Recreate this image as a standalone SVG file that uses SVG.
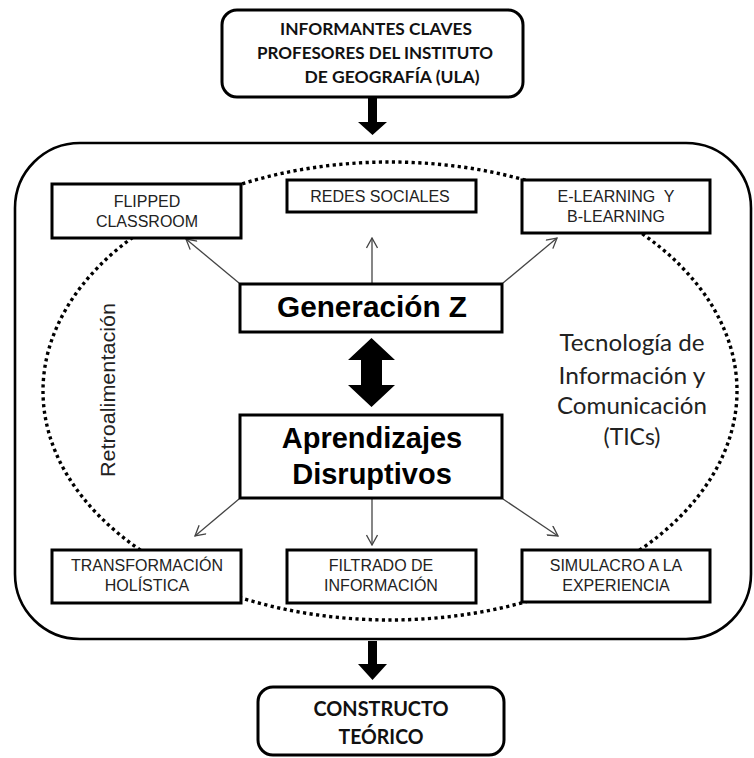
<svg xmlns="http://www.w3.org/2000/svg" width="754" height="758" viewBox="0 0 754 758">
<style>
.frame{fill:#fff;stroke:#000;stroke-width:3}
.box{fill:#fff;stroke:#000;stroke-width:3}
.hd{font-family:Lato,"Liberation Sans",sans-serif;font-weight:700;fill:#111;text-anchor:middle}
.sm{font-family:"Liberation Sans",Arial,sans-serif;font-size:16px;fill:#222;text-anchor:middle;white-space:pre}
.big{font-family:"Liberation Sans",Arial,sans-serif;font-weight:700;font-size:29px;fill:#000;text-anchor:middle}
.tic{font-family:Lato,"Open Sans",sans-serif;font-size:24px;fill:#222;text-anchor:middle}
.thin{stroke:#444;stroke-width:1.3;fill:none;marker-end:url(#open)}
</style>
<defs>
<marker id="open" viewBox="0 0 12 12" refX="11" refY="6" markerWidth="12" markerHeight="12" markerUnits="userSpaceOnUse" orient="auto">
<path d="M1,0.5 L11,6 L1,11.5" fill="none" stroke="#444" stroke-width="1.3"/>
</marker>
</defs>
<rect width="754" height="758" fill="#fff"/>
<g id="contexto">
<rect x="15" y="143" width="736" height="496" rx="65" ry="65" fill="#fff" stroke="#000" stroke-width="2.6"/>
<ellipse cx="390" cy="391" rx="347" ry="229" fill="none" stroke="#000" stroke-width="3.4" stroke-dasharray="3.2 3.4"/>
<text class="sm" transform="translate(115,390) rotate(-90)" style="font-size:21px" textLength="174" lengthAdjust="spacingAndGlyphs">Retroalimentación</text>
<text class="tic" x="632" y="351" textLength="145" lengthAdjust="spacingAndGlyphs">Tecnología de</text>
<text class="tic" x="632" y="384" textLength="147" lengthAdjust="spacingAndGlyphs">Información y</text>
<text class="tic" x="632" y="414" textLength="150" lengthAdjust="spacingAndGlyphs">Comunicación</text>
<text class="tic" x="632" y="445" textLength="57" lengthAdjust="spacingAndGlyphs">(TICs)</text>
</g>
<g id="connectors">
<polygon points="368,97 377,97 377,122 387,122 372.5,135 358,122 368,122" fill="#000"/>
<polygon points="368,641 377,641 377,664 387,664 372.5,680 358,664 368,664" fill="#000"/>
<polygon points="371.5,338 395,360 382,360 382,385 395,385 371.5,407 348,385 361,385 361,360 348,360" fill="#000"/>
<line class="thin" x1="239" y1="283" x2="186" y2="239"/>
<line class="thin" x1="372" y1="283" x2="372" y2="238"/>
<line class="thin" x1="503" y1="283" x2="557" y2="238"/>
<line class="thin" x1="239" y1="499" x2="195" y2="536"/>
<line class="thin" x1="372" y1="499" x2="372" y2="545"/>
<line class="thin" x1="503" y1="499" x2="558" y2="536"/>
</g>
<g id="informantes">
<rect class="frame" x="222" y="10" width="301" height="87" rx="15"/>
<text class="hd" x="376" y="35" style="font-size:17px" textLength="192" lengthAdjust="spacingAndGlyphs">INFORMANTES CLAVES</text>
<text class="hd" x="375" y="59" style="font-size:17px" textLength="236" lengthAdjust="spacingAndGlyphs">PROFESORES DEL INSTITUTO</text>
<text class="hd" x="392" y="83" style="font-size:17px" textLength="175" lengthAdjust="spacingAndGlyphs">DE GEOGRAFÍA (ULA)</text>
</g>
<g id="flipped">
<rect class="box" x="52" y="184" width="189" height="54"/>
<text class="sm" x="147" y="207">FLIPPED</text>
<text class="sm" x="147" y="227">CLASSROOM</text>
</g>
<g id="redes">
<rect class="box" x="287" y="180" width="189" height="32"/>
<text class="sm" x="380" y="202">REDES SOCIALES</text>
</g>
<g id="elearning">
<rect class="box" x="522" y="180" width="188" height="53"/>
<text class="sm" x="616" y="202">E-LEARNING  Y</text>
<text class="sm" x="616" y="222">B-LEARNING</text>
</g>
<g id="generacion">
<rect class="box" x="240" y="284" width="262" height="48"/>
<text class="big" x="372" y="317" textLength="190" lengthAdjust="spacingAndGlyphs">Generación Z</text>
</g>
<g id="aprendizajes">
<rect class="box" x="240" y="415" width="262" height="83"/>
<text class="big" x="372" y="448">Aprendizajes</text>
<text class="big" x="372" y="484">Disruptivos</text>
</g>
<g id="transformacion">
<rect class="box" x="52" y="550" width="189" height="53"/>
<text class="sm" x="147" y="571">TRANSFORMACIÓN</text>
<text class="sm" x="147" y="591">HOLÍSTICA</text>
</g>
<g id="filtrado">
<rect class="box" x="287" y="550" width="189" height="53"/>
<text class="sm" x="381" y="571">FILTRADO DE</text>
<text class="sm" x="381" y="591">INFORMACIÓN</text>
</g>
<g id="simulacro">
<rect class="box" x="522" y="550" width="188" height="52"/>
<text class="sm" x="616" y="571">SIMULACRO A LA</text>
<text class="sm" x="616" y="591">EXPERIENCIA</text>
</g>
<g id="constructo">
<rect class="frame" x="258" y="687" width="246" height="68" rx="15"/>
<text class="hd" x="381" y="716" style="font-size:20px" textLength="135" lengthAdjust="spacingAndGlyphs">CONSTRUCTO</text>
<text class="hd" x="381" y="744" style="font-size:20px" textLength="85" lengthAdjust="spacingAndGlyphs">TEÓRICO</text>
</g>
</svg>
